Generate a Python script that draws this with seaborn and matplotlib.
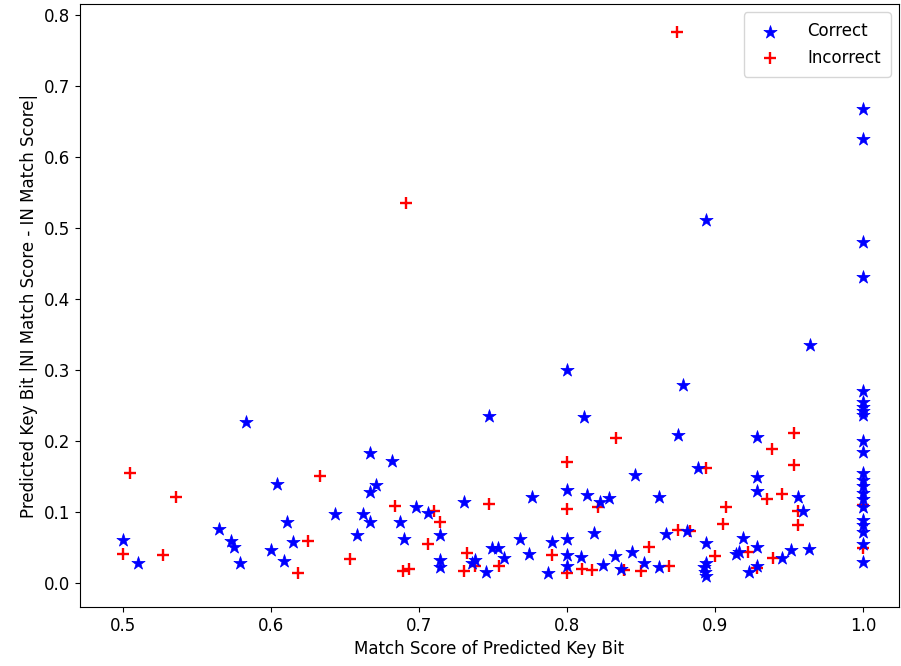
import numpy as np
import pandas as pd
import matplotlib
matplotlib.use('Agg')
import matplotlib.pyplot as plt
import seaborn as sns

# Correct predictions (blue stars)
correct_x = [0.5, 0.51, 0.583, 0.565, 0.573, 0.575, 0.579, 0.6, 0.604, 0.609,
             0.611, 0.615, 0.643, 0.658, 0.662, 0.667, 0.667, 0.667, 0.671, 0.682,
             0.687, 0.69, 0.698, 0.706, 0.714, 0.714, 0.714, 0.73, 0.736, 0.738,
             0.745, 0.747, 0.749, 0.753, 0.757, 0.768, 0.774, 0.776, 0.787, 0.79,
             0.8, 0.8, 0.8, 0.8, 0.8, 0.809, 0.811, 0.813, 0.818, 0.822,
             0.828, 0.824, 0.832, 0.836, 0.844, 0.846, 0.852, 0.862, 0.862, 0.867,
             0.875, 0.878, 0.881, 0.888, 0.894, 0.892, 0.893, 0.894, 0.894, 0.894,
             0.914, 0.916, 0.919, 0.923, 0.928, 0.928, 0.928, 0.928, 0.928, 0.945,
             0.951, 0.956, 0.959, 0.963, 0.964,
             1.0, 1.0, 1.0, 1.0, 1.0, 1.0, 1.0, 1.0, 1.0, 1.0, 1.0,
             1.0, 1.0, 1.0, 1.0, 1.0, 1.0, 1.0, 1.0, 1.0, 1.0, 1.0]
correct_y = [0.061, 0.028, 0.227, 0.076, 0.059, 0.051, 0.028, 0.046, 0.139, 0.031,
             0.085, 0.058, 0.097, 0.068, 0.097, 0.183, 0.128, 0.085, 0.138, 0.172,
             0.085, 0.062, 0.107, 0.099, 0.068, 0.032, 0.023, 0.114, 0.028, 0.032,
             0.015, 0.235, 0.049, 0.049, 0.035, 0.062, 0.041, 0.121, 0.014, 0.058,
             0.3, 0.131, 0.062, 0.039, 0.024, 0.037, 0.234, 0.123, 0.07, 0.114,
             0.12, 0.025, 0.038, 0.02, 0.044, 0.152, 0.028, 0.121, 0.023, 0.069,
             0.208, 0.279, 0.073, 0.162, 0.511, 0.023, 0.015, 0.01, 0.028, 0.056,
             0.041, 0.044, 0.063, 0.015, 0.206, 0.149, 0.13, 0.051, 0.024, 0.035,
             0.046, 0.121, 0.101, 0.048, 0.335,
             0.667, 0.625, 0.48, 0.43, 0.27, 0.254, 0.248, 0.242, 0.236, 0.2, 0.184,
             0.155, 0.145, 0.137, 0.127, 0.118, 0.107, 0.088, 0.082, 0.072, 0.055, 0.03]

# Incorrect predictions (red plus)
incorrect_x = [0.5, 0.505, 0.527, 0.536, 0.618, 0.625, 0.633, 0.653, 0.684, 0.689,
               0.693, 0.691, 0.706, 0.71, 0.714, 0.73, 0.732, 0.738, 0.747, 0.754,
               0.79, 0.8, 0.8, 0.8, 0.81, 0.817, 0.821, 0.833, 0.838, 0.85,
               0.855, 0.869, 0.875, 0.883, 0.894, 0.9, 0.905, 0.907, 0.922, 0.928,
               0.935, 0.938, 0.939, 0.945, 0.953, 0.953, 0.956, 0.956, 1.0, 1.0,
               0.874]
incorrect_y = [0.041, 0.155, 0.039, 0.121, 0.014, 0.059, 0.151, 0.034, 0.108, 0.016,
               0.02, 0.535, 0.055, 0.101, 0.086, 0.017, 0.042, 0.024, 0.111, 0.024,
               0.039, 0.17, 0.104, 0.014, 0.02, 0.018, 0.107, 0.204, 0.018, 0.017,
               0.051, 0.024, 0.075, 0.073, 0.162, 0.038, 0.083, 0.107, 0.044, 0.021,
               0.118, 0.189, 0.035, 0.125, 0.211, 0.166, 0.101, 0.082, 0.049, 0.11,
               0.775]

df_c = pd.DataFrame({'x': correct_x, 'y': correct_y})
df_i = pd.DataFrame({'x': incorrect_x, 'y': incorrect_y})

sns.set_style('ticks', {'axes.edgecolor': 'black', 'text.color': 'black',
                        'axes.labelcolor': 'black', 'xtick.color': 'black',
                        'ytick.color': 'black'})
plt.rcParams['font.family'] = ['DejaVu Sans']
plt.rcParams['font.size'] = 12

fig = plt.figure(figsize=(9.01, 6.66), dpi=100)
ax = fig.add_axes([80 / 901, 59 / 666, 819 / 901, 603 / 666])

sns.scatterplot(data=df_i, x='x', y='y', marker='+', color='red', s=75,
                linewidth=1.7, label='Incorrect', ax=ax, zorder=2)
sns.scatterplot(data=df_c, x='x', y='y', marker='*', color='blue', s=100,
                edgecolor='blue', linewidth=0.5, label='Correct', ax=ax, zorder=3)

ax.set_xlim(0.471, 1.024)
ax.set_ylim(-0.034, 0.815)
ax.set_xticks([0.5, 0.6, 0.7, 0.8, 0.9, 1.0])
ax.set_yticks(np.arange(0, 0.81, 0.1))
ax.tick_params(labelsize=12)
ax.set_xlabel('Match Score of Predicted Key Bit', fontsize=12)
ax.set_ylabel('Predicted Key Bit |NI Match Score - IN Match Score|', fontsize=12)

handles, labels = ax.get_legend_handles_labels()
ax.legend(handles[::-1], labels[::-1], loc='upper right', fontsize=12,
          handletextpad=1.2, borderpad=0.6)

fig.savefig('out.png', dpi=100)
